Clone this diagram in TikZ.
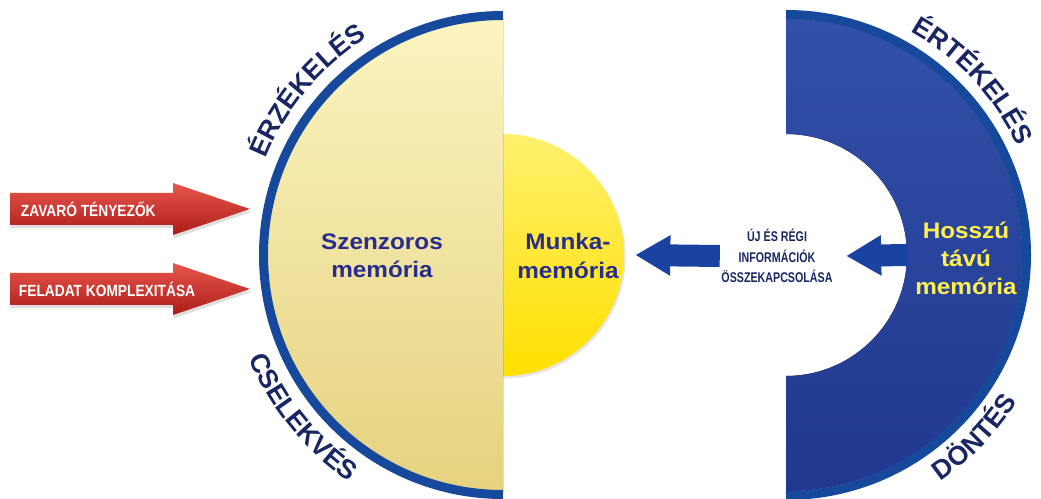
\documentclass[tikz,border=0pt]{standalone}
\usepackage{fontspec}
\setmainfont{Liberation Sans}
\newfontfamily\narrowfont[FakeStretch=0.85]{Liberation Sans}
\newfontfamily\condfont[FakeStretch=0.76]{Liberation Sans}
\newfontfamily\widefont[FakeStretch=1.08]{Liberation Sans}
\usetikzlibrary{arrows.meta,decorations.text,shadows}

\definecolor{rimblue}{RGB}{22,72,155}
\definecolor{sensetop}{RGB}{251,244,192}
\definecolor{sensebot}{RGB}{230,210,128}
\definecolor{worktop}{RGB}{255,240,110}
\definecolor{workbot}{RGB}{255,224,0}
\definecolor{longtop}{RGB}{50,80,170}
\definecolor{longbot}{RGB}{32,56,142}
\definecolor{inkblue}{RGB}{40,45,140}
\definecolor{labelnavy}{RGB}{24,38,100}
\definecolor{longyellow}{RGB}{255,240,80}
\definecolor{redtop}{RGB}{232,86,76}
\definecolor{redbot}{RGB}{172,28,24}
\definecolor{arrowblue}{RGB}{26,66,160}

\newcommand{\curvefont}{\fontsize{19}{19}\selectfont\bfseries\color{labelnavy}}

\tikzset{
  redarrow/.style={top color=redtop, bottom color=redbot,
    drop shadow={shadow xshift=0.03cm, shadow yshift=-0.08cm, opacity=0.25}},
  bluearrow/.style={draw=arrowblue, line width=5.5mm,
    -{Triangle[length=8.75mm, width=9.5mm]}},
  rim/.style={draw=rimblue, line width=0.225cm}
}

\begin{document}
\begin{tikzpicture}[x=0.025cm,y=0.025cm]
\useasboundingbox (0,0) rectangle (1041,499);

\coordinate (lc) at (503,244);
\coordinate (rc) at (786,244);
\coordinate (holeedge) at (907,244);

% working memory disk, left half hidden
\node[circle, minimum size=6.05cm, inner sep=0pt, top color=worktop, bottom color=workbot,
      drop shadow={shadow xshift=0.04cm, shadow yshift=-0.06cm, opacity=0.2}] (munka) at (lc) {};

% sensory half disk
\fill[top color=sensetop, bottom color=sensebot]
    ([shift={(90:236)}]lc) arc[start angle=90, end angle=270, radius=236] -- cycle;
\path[rim] ([shift={(90:239.5)}]lc) arc[start angle=90, end angle=270, radius=239.5];

% long term memory ring
\fill[top color=longtop, bottom color=longbot]
    ([shift={(90:236)}]rc) arc[start angle=90, end angle=-90, radius=236]
    -- ([shift={(-90:121)}]rc) arc[start angle=-90, end angle=90, radius=121] -- cycle;
\path[rim] ([shift={(90:240.5)}]rc) arc[start angle=90, end angle=-90, radius=240.5];

% red arrows
\path[redarrow] (10,306) -- (173,306) -- (173,316) -- (250,290) -- (173,264) -- (173,274) -- (10,274) -- cycle;
\path[redarrow] (10,226) -- (173,226) -- (173,236) -- (250,210) -- (173,184) -- (173,194) -- (10,194) -- cycle;

\begin{scope}[every node/.style={anchor=west, text=white,
              font=\narrowfont\bfseries\fontsize{11.5}{13}\selectfont}]
    \node (zavaro) at (16,290) {ZAVARÓ TÉNYEZŐK};
    \node (feladat) at (14,210) {FELADAT KOMPLEXITÁSA};
\end{scope}

% memory names
\begin{scope}[every node/.style={align=center, font=\widefont\bfseries\fontsize{16}{20}\selectfont}]
    \node[text=inkblue] (szenzoros) at (382,243) {Szenzoros\\memória};
    \node[text=inkblue] (munkatext) at (568,243) {Munka-\\memória};
    \node[text=longyellow] (hosszu) at (966,241) {Hosszú\\távú\\memória};
\end{scope}

\node[align=center, inner sep=1pt, text=labelnavy,
      font=\condfont\bfseries\fontsize{10}{14.5}\selectfont] (ujregi) at (777,243)
      {ÚJ ÉS RÉGI\\INFORMÁCIÓK\\ÖSSZEKAPCSOLÁSA};

% blue arrows
\draw[bluearrow] (ujregi.west) -- ([xshift=0.275cm]munka.east);
\draw[bluearrow] (holeedge) -- ([xshift=0.3cm]ujregi.east);

% curved labels
\path[decorate, decoration={text along path, text align=center, text={|\curvefont|ÉRZÉKELÉS}}]
    ([shift={(168:256)}]lc) arc[start angle=168, end angle=112, radius=256];
\path[decorate, decoration={text along path, text align=center, text={|\curvefont|CSELEKVÉS}}]
    ([shift={(191:274)}]lc) arc[start angle=191, end angle=247, radius=274];
\path[decorate, decoration={text along path, text align=center, text={|\curvefont|ÉRTÉKELÉS}}]
    ([shift={(71:256)}]rc) arc[start angle=71, end angle=15, radius=256];
\path[decorate, decoration={text along path, text align=center, text={|\curvefont|DÖNTÉS}}]
    ([shift={(-72:274)}]rc) arc[start angle=-72, end angle=-16, radius=274];
\end{tikzpicture}
\end{document}
